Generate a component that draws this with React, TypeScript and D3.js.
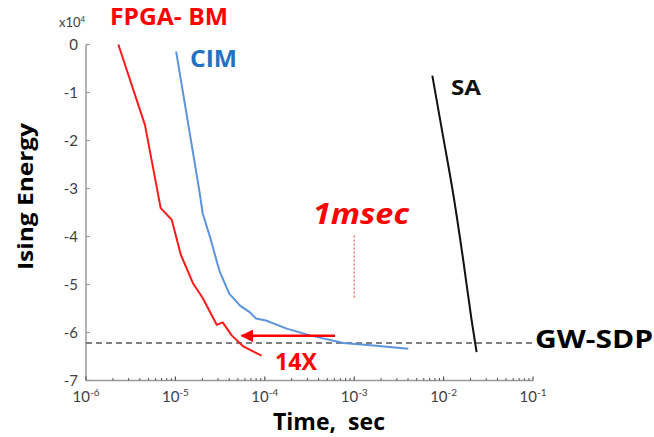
import React from "react";
import * as d3 from "d3";

const fpgaTime = [2.3e-6, 4.57e-6, 6.85e-6, 9.1e-6, 1.15e-5, 1.58e-5, 2.02e-5, 2.9e-5, 3.38e-5, 4.26e-5, 5.75e-5, 9.2e-5];
const fpgaEnergy = [0, -1.68, -3.41, -3.65, -4.38, -4.98, -5.28, -5.84, -5.79, -6.06, -6.29, -6.48];

const cimTime = [1.02e-5, 1.85e-5, 2.02e-5, 2.44e-5, 3.1e-5, 4.0e-5, 5.28e-5, 6.83e-5, 7.97e-5, 1.03e-4, 1.76e-4, 3.2e-4, 7.55e-4, 1.64e-3, 4.03e-3];
const cimEnergy = [-0.15, -3.04, -3.52, -4.01, -4.71, -5.19, -5.44, -5.58, -5.71, -5.75, -5.92, -6.06, -6.22, -6.27, -6.34];

const saTime = [7.48e-3, 9.9e-3, 1.28e-2, 1.66e-2, 2.06e-2, 2.34e-2];
const saEnergy = [-0.65, -1.93, -3.11, -4.5, -5.75, -6.41];

const gwSdp = -6.22;
const arrowStart = { t: 6.1e-4, e: -6.07 };
const arrowEnd = { t: 5.52e-5, e: -6.07 };
const msecLine = { t: 1e-3, top: -3.98, bottom: -5.3 };

const yTicks = [0, -1, -2, -3, -4, -5, -6, -7];
const xExps = [-6, -5, -4, -3, -2, -1];

const FONT = "'Open Sans', Lato, sans-serif";
const TICKFONT = "Lato, 'Open Sans', sans-serif";

export default function App() {
  const x = d3.scaleLog().domain([1e-6, 1e-1]).range([86, 533]);
  const y = d3.scaleLinear().domain([-7, 0]).range([380.5, 44.5]);

  const line = d3
    .line<[number, number]>()
    .x((d) => x(d[0]))
    .y((d) => y(d[1]));
  const smooth = d3
    .line<[number, number]>()
    .x((d) => x(d[0]))
    .y((d) => y(d[1]))
    .curve(d3.curveMonotoneX);

  const zip = (a: number[], b: number[]) => a.map((v, i) => [v, b[i]] as [number, number]);

  const minorTicks: number[] = [];
  for (let e = -6; e < -1; e++) {
    for (let k = 2; k <= 9; k++) minorTicks.push(k * Math.pow(10, e));
  }

  const axisColor = "#9a9a9a";
  const x0 = x(1e-6);
  const x1 = x(1e-1);
  const yAxis = y(-7);

  return (
    <svg
      width={654}
      height={437}
      style={{ position: "absolute", left: 0, top: 0, background: "#fff" }}
      fontFamily={FONT}
    >
      <defs>
        <marker id="ah" viewBox="0 0 10 10" refX="9" refY="5" markerWidth="5" markerHeight="5" orient="auto-start-reverse">
          <path d="M0,0 L10,5 L0,10 z" fill="#ff0000" />
        </marker>
      </defs>

      {/* axes */}
      <line x1={x0} x2={x0} y1={y(0)} y2={yAxis} stroke={axisColor} strokeWidth={1.5} />
      <line x1={x0} x2={x1} y1={yAxis} y2={yAxis} stroke={axisColor} strokeWidth={1.5} />
      {yTicks.map((t) => (
        <g key={t}>
          <line x1={x0} x2={x0 + 4} y1={y(t)} y2={y(t)} stroke={axisColor} strokeWidth={1.2} />
          <text x={78} y={y(t)} dy="0.35em" textAnchor="end" fontSize={15} fill="#404040" fontFamily={TICKFONT}>
            {t === 0 ? "0" : "-" + Math.abs(t)}
          </text>
        </g>
      ))}
      {minorTicks.map((t, i) => (
        <line key={i} x1={x(t)} x2={x(t)} y1={yAxis} y2={yAxis - 2.5} stroke="#555" strokeWidth={1} />
      ))}
      {xExps.map((e) => (
        <g key={e}>
          <line x1={x(Math.pow(10, e))} x2={x(Math.pow(10, e))} y1={yAxis} y2={yAxis - 4} stroke="#555" strokeWidth={1.2} />
          <text x={x(Math.pow(10, e))} y={402} textAnchor="middle" fontSize={15} fill="#404040" fontFamily={TICKFONT}>
            10
            <tspan fontSize={10} dy={-6}>{String(e)}</tspan>
          </text>
        </g>
      ))}
      <text x={59} y={27} fontSize={13} fill="#404040" fontFamily={TICKFONT}>
        x10<tspan fontSize={8} dy={-5}>4</tspan>
      </text>

      {/* GW-SDP dashed */}
      <line x1={x0} x2={x1} y1={y(gwSdp)} y2={y(gwSdp)} stroke="#555" strokeWidth={1.5} strokeDasharray="6,4" />

      {/* curves */}
      <path d={line(zip(fpgaTime, fpgaEnergy)) || ""} fill="none" stroke="#ff1a1a" strokeWidth={2} strokeLinejoin="round" />
      <path d={line(zip(cimTime, cimEnergy)) || ""} fill="none" stroke="#5b93dc" strokeWidth={2} strokeLinejoin="round" />
      <path d={smooth(zip(saTime, saEnergy)) || ""} fill="none" stroke="#111" strokeWidth={2} />

      {/* arrow */}
      <line
        x1={x(arrowStart.t)}
        x2={x(arrowEnd.t)}
        y1={y(arrowStart.e)}
        y2={y(arrowEnd.e)}
        stroke="#ff0000"
        strokeWidth={2.5}
        markerEnd="url(#ah)"
      />
      <line
        x1={x(msecLine.t)}
        x2={x(msecLine.t)}
        y1={y(msecLine.top)}
        y2={y(msecLine.bottom)}
        stroke="#ff3030"
        strokeWidth={1}
        strokeDasharray="2,2"
      />

      {/* labels */}
      <text x={110} y={25} fontSize={23} fontWeight="bold" fill="#ff0000" textLength={118} lengthAdjust="spacingAndGlyphs">FPGA- BM</text>
      <text x={190} y={67} fontSize={23} fontWeight="bold" fill="#2272c3" textLength={47} lengthAdjust="spacingAndGlyphs">CIM</text>
      <text x={451} y={95} fontSize={21} fontWeight="bold" fill="#111" textLength={30} lengthAdjust="spacingAndGlyphs">SA</text>
      <text x={313} y={224} fontSize={29} fontWeight="bold" fontStyle="italic" fill="#ff0000" textLength={96} lengthAdjust="spacingAndGlyphs">1msec</text>
      <text x={275} y={369.5} fontSize={23.5} fontWeight="bold" fill="#ff0000" textLength={42} lengthAdjust="spacingAndGlyphs">14X</text>
      <text x={535} y={348} fontSize={25.5} fontWeight="bold" fill="#000" textLength={118} lengthAdjust="spacingAndGlyphs">GW-SDP</text>
      <text x={273} y={429.5} fontSize={22.5} fontWeight="bold" fill="#000" xmlSpace="preserve" textLength={112} lengthAdjust="spacingAndGlyphs">Time,  sec</text>
      <text transform={`translate(33,270) rotate(-90)`} fontSize={22} fontWeight="bold" fill="#000" textLength={147} lengthAdjust="spacingAndGlyphs">Ising Energy</text>
    </svg>
  );
}
